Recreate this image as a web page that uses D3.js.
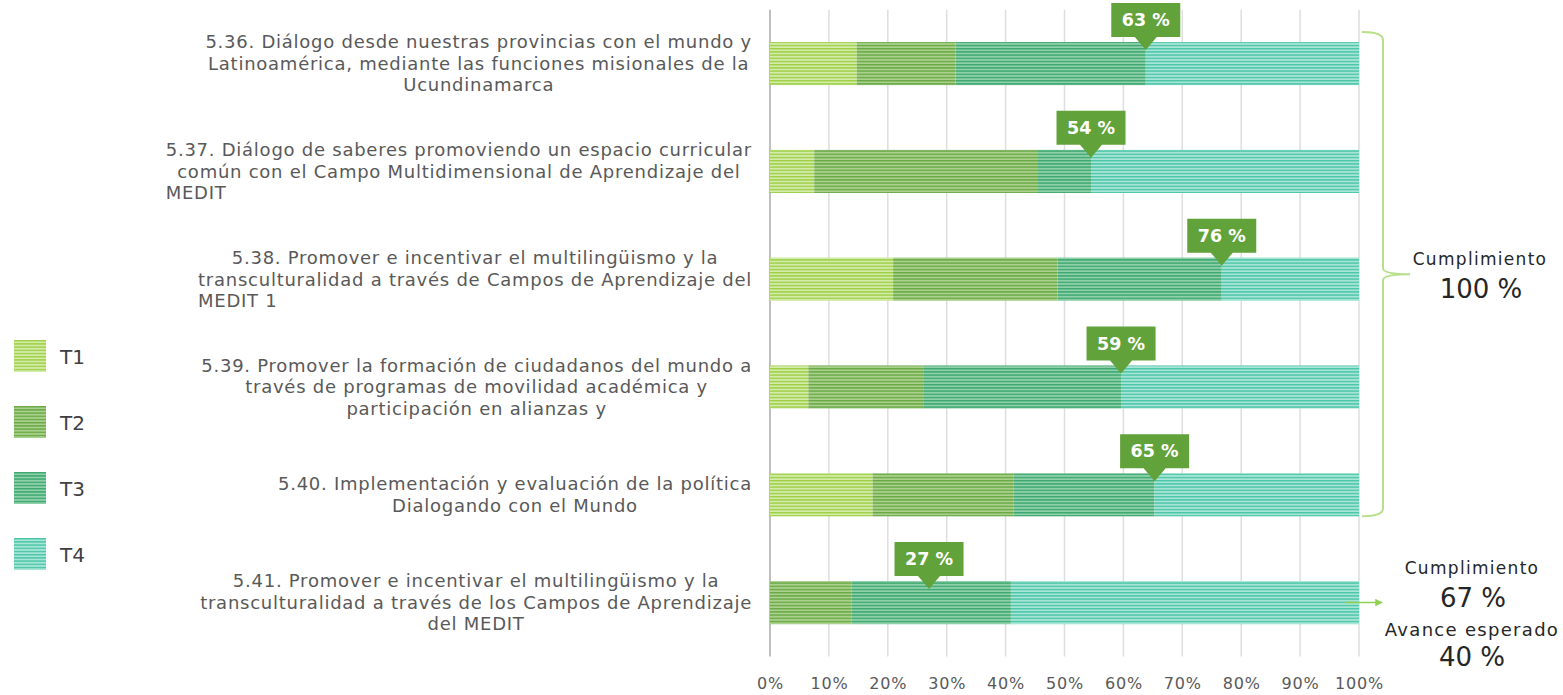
<!DOCTYPE html>
<html>
<head>
<meta charset="utf-8">
<script src="https://cdn.jsdelivr.net/npm/d3@7"></script>
<style>
  body { margin: 0; background: #fff; }
  svg { font-family: "DejaVu Sans", sans-serif; }
</style>
</head>
<body>
<div id="chart"></div>
<script>
// data
const labels = [
  ["5.36. Diálogo desde nuestras provincias con el mundo y", "Latinoamérica, mediante las funciones misionales de la", "Ucundinamarca"],
  ["5.37. Diálogo de saberes promoviendo un espacio curricular", "común con el Campo Multidimensional de Aprendizaje del", "MEDIT"],
  ["5.38. Promover e incentivar el multilingüismo y la", "transculturalidad a través de Campos de Aprendizaje del", "MEDIT 1"],
  ["5.39. Promover la formación de ciudadanos del mundo a", "través de programas de movilidad académica y", "participación en alianzas y"],
  ["5.40. Implementación y evaluación de la política", "Dialogando con el Mundo"],
  ["5.41. Promover e incentivar el multilingüismo y la", "transculturalidad a través de los Campos de Aprendizaje", "del MEDIT"]
];
const lastLineLeft = [false, true, true, false, false, false];
const seriesNames = ["T1", "T2", "T3", "T4"];
const t1 = [14.7, 7.5, 20.9, 6.5, 17.4, 0];
const t2 = [16.8, 38.0, 27.9, 19.5, 23.9, 13.8];
const t3 = [32.3, 9.0, 27.9, 33.6, 24.0, 27.1];
const t4 = [36.2, 45.5, 23.3, 40.4, 34.7, 59.1];
const progress = [63.8, 54.5, 76.7, 59.6, 65.3, 27.0];
const progressLabels = ["63 %", "54 %", "76 %", "59 %", "65 %", "27 %"];
const xTicks = [0, 10, 20, 30, 40, 50, 60, 70, 80, 90, 100];

const W = 1563, H = 695;
const svg = d3.select("#chart").append("svg").attr("width", W).attr("height", H);

const rows = labels.map((l, i) => ({id: i, T1: t1[i], T2: t2[i], T3: t3[i], T4: t4[i]}));

const x = d3.scaleLinear().domain([0, 100]).range([770, 1359]);
const y = d3.scaleBand().domain(d3.range(labels.length)).range([9.7, 656.5])
  .paddingInner(0.6).paddingOuter(0.3);

// striped fills
const fills = {
  T1: {light: "#d3ebab", dark: "#9dcf43"},
  T2: {light: "#a9d08c", dark: "#69a845"},
  T3: {light: "#8fd0aa", dark: "#3ba76e"},
  T4: {light: "#a9e5d6", dark: "#49c5a6"}
};
const defs = svg.append("defs");
seriesNames.forEach(s => {
  const p = defs.append("pattern").attr("id", "pat-" + s)
    .attr("patternUnits", "userSpaceOnUse").attr("width", 6).attr("height", 3.2);
  p.append("rect").attr("width", 6).attr("height", 3.2).attr("fill", fills[s].light);
  p.append("rect").attr("y", 0).attr("width", 6).attr("height", 1.4).attr("fill", fills[s].dark);
});
defs.append("marker").attr("id", "arrow").attr("viewBox", "0 0 10 10")
  .attr("refX", 9).attr("refY", 5).attr("markerWidth", 5).attr("markerHeight", 5)
  .attr("orient", "auto")
  .append("path").attr("d", "M0,0L10,5L0,10z").attr("fill", "#92d050");

// grid
svg.append("g").selectAll("line").data(xTicks).enter().append("line")
  .attr("x1", d => x(d)).attr("x2", d => x(d))
  .attr("y1", y.range()[0]).attr("y2", y.range()[1])
  .attr("stroke", d => d === 0 ? "#bfbfbf" : "#dedede")
  .attr("stroke-width", d => d === 0 ? 2 : 1.5);

// axis
const xAxis = d3.axisBottom(x).tickValues(xTicks).tickFormat(d => d + "%").tickSize(0).tickPadding(0);
const ax = svg.append("g").attr("transform", "translate(0,678)").call(xAxis);
ax.select(".domain").remove();
ax.selectAll("text").attr("font-size", 16).attr("fill", "#595959")
  .attr("letter-spacing", 0.8)
  .attr("font-family", "DejaVu Sans, sans-serif");

// bars
const stack = d3.stack().keys(seriesNames)(rows);
svg.append("g").selectAll("g").data(stack).enter().append("g")
  .attr("fill", d => "url(#pat-" + d.key + ")")
  .selectAll("rect").data(d => d).enter().append("rect")
  .attr("x", d => x(d[0]))
  .attr("y", d => y(d.data.id))
  .attr("width", d => x(d[1]) - x(d[0]))
  .attr("height", y.bandwidth());

// category labels
const lineH = 21.5;
const labG = svg.append("g").attr("fill", "#595959").attr("font-size", 18)
  .attr("letter-spacing", 0.75);
labels.forEach((lines, i) => {
  const g = labG.append("g");
  const cy = y(i) + y.bandwidth() / 2;
  const ts = g.selectAll("text").data(lines).enter().append("text")
    .attr("y", (d, j) => cy + (j - (lines.length - 1) / 2) * lineH)
    .attr("dy", "0.35em")
    .text(d => d);
  let maxW = 0;
  ts.each(function () { maxW = Math.max(maxW, this.getComputedTextLength()); });
  const right = 752, cx = right - maxW / 2;
  ts.attr("x", cx).attr("text-anchor", "middle");
  if (lastLineLeft[i]) {
    ts.filter((d, j) => j === lines.length - 1).attr("x", right - maxW).attr("text-anchor", "start");
  }
});

// callouts
const cg = svg.append("g");
progress.forEach((v, i) => {
  const px = x(v), top = y(i);
  const bw = 69, bh = 34;
  const g = cg.append("g");
  g.append("path")
    .attr("d", `M${px - bw / 2},${top - 39}h${bw}v${bh}h${-bw / 2 + 11}L${px},${top + 8}L${px - 11},${top - 5}H${px - bw / 2}Z`)
    .attr("fill", "#62a23a");
  g.append("text").attr("x", px).attr("y", top - 22).attr("dy", "0.35em")
    .attr("text-anchor", "middle").attr("fill", "#fff").attr("font-weight", "bold")
    .attr("font-size", 17.5).text(progressLabels[i]);
});

// legend
const lg = svg.append("g").attr("transform", "translate(14,340)");
const li = lg.selectAll("g").data(seriesNames).enter().append("g")
  .attr("transform", (d, i) => `translate(0,${i * 66})`);
li.append("rect").attr("width", 32).attr("height", 32).attr("fill", d => "url(#pat-" + d + ")");
li.append("text").attr("x", 46).attr("y", 17).attr("dy", "0.35em")
  .attr("font-size", 20).attr("fill", "#404040").text(d => d);

// brace for the first five rows
const bTop = y(0) - 10, bBot = y(4) + y.bandwidth(), bMid = (bTop + bBot) / 2;
const bx = 1383, bl = x(100) + 3;
svg.append("path")
  .attr("d", `M${bl},${bTop} Q${bx},${bTop} ${bx},${bTop + 8} V${bMid - 6} Q${bx},${bMid} ${bx + 27},${bMid} Q${bx},${bMid} ${bx},${bMid + 6} V${bBot - 8} Q${bx},${bBot} ${bl},${bBot}`)
  .attr("fill", "none").attr("stroke", "#b7e08a").attr("stroke-width", 2);

const note = svg.append("g").attr("fill", "#262626").attr("text-anchor", "middle");
note.append("text").attr("x", 1480).attr("y", bMid - 15).attr("dy", "0.35em").attr("font-size", 17)
  .attr("letter-spacing", 1.3).text("Cumplimiento");
note.append("text").attr("x", 1481).attr("y", bMid + 15).attr("dy", "0.35em").attr("font-size", 26).text("100 %");

// arrow for the last row
const ly = y(5) + y.bandwidth() / 2;
svg.append("line").attr("x1", x(100) - 14).attr("x2", 1382).attr("y1", ly).attr("y2", ly)
  .attr("stroke", "#92d050").attr("stroke-width", 1.5).attr("marker-end", "url(#arrow)");
note.append("text").attr("x", 1472).attr("y", ly - 35).attr("dy", "0.35em").attr("font-size", 17)
  .attr("letter-spacing", 1.3).text("Cumplimiento");
note.append("text").attr("x", 1473).attr("y", ly - 5).attr("dy", "0.35em").attr("font-size", 26).text("67 %");
note.append("text").attr("x", 1472).attr("y", ly + 27).attr("dy", "0.35em").attr("font-size", 18)
  .attr("letter-spacing", 1.3).text("Avance esperado");
note.append("text").attr("x", 1472).attr("y", ly + 54).attr("dy", "0.35em").attr("font-size", 26).text("40 %");
</script>
</body>
</html>
